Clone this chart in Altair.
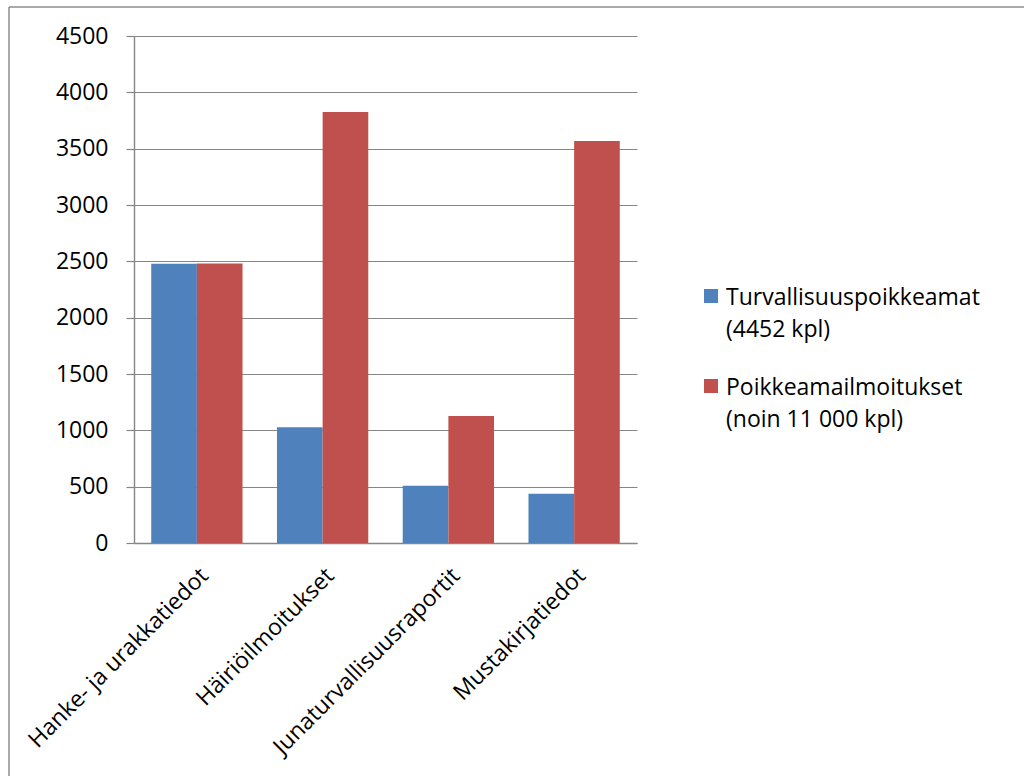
import altair as alt
import pandas as pd

categories = ["Hanke- ja urakkatiedot", "Häiriöilmoitukset", "Junaturvallisuusraportit", "Mustakirjatiedot"]
series = ["Turvallisuuspoikkeamat", "Poikkeamailmoitukset"]
turvallisuus = [2478, 1028, 508, 438]
poikkeama = [2480, 3826, 1127, 3567]
legend_labels = ["Turvallisuuspoikkeamat\n(4452 kpl)", "Poikkeamailmoitukset\n(noin 11 000 kpl)"]
colors = ["#4F81BD", "#C0504D"]
y_ticks = [0, 500, 1000, 1500, 2000, 2500, 3000, 3500, 4000, 4500]

rows = []
for i, c in enumerate(categories):
    rows.append({"cat": c, "series": series[0], "value": turvallisuus[i]})
    rows.append({"cat": c, "series": series[1], "value": poikkeama[i]})
df = pd.DataFrame(rows)
leg_df = pd.DataFrame({"series": series, "label": legend_labels})
one = pd.DataFrame({"a": [0]})

FONT = "Open Sans"
GRAY = "#868686"

color_scale = alt.Scale(domain=series, range=colors)

bars = alt.Chart(df).mark_bar().encode(
    x=alt.X("cat:N", sort=categories, title=None,
            scale=alt.Scale(paddingInner=0.274, paddingOuter=0.137),
            axis=alt.Axis(labelAngle=-45, labelAlign="right", labelBaseline="top",
                          labelPadding=21, ticks=False, tickSize=0, grid=False,
                          domainColor=GRAY, domainWidth=1.6, labelFont=FONT,
                          labelFontSize=23, labelColor="black", labelLimit=400)),
    xOffset=alt.XOffset("series:N", sort=series, scale=alt.Scale(paddingInner=0, paddingOuter=0)),
    y=alt.Y("value:Q", title=None, scale=alt.Scale(domain=[0, 4500], nice=False),
            axis=alt.Axis(values=y_ticks, format="d", grid=True, gridColor=GRAY, gridWidth=1.2,
                          tickSize=8, tickColor=GRAY, tickWidth=1.2, domainColor=GRAY,
                          domainWidth=1.4, labelPadding=18, labelFont=FONT,
                          labelFontSize=23, labelColor="black")),
    color=alt.Color("series:N", scale=color_scale, legend=None),
)

leg_y = alt.Y("series:N", axis=None,
              scale=alt.Scale(type="point", domain=series, range=[260, 350], padding=0))

leg_sym = alt.Chart(leg_df).mark_square(size=196, opacity=1).encode(
    x=alt.value(577),
    y=leg_y,
    color=alt.Color("series:N", scale=color_scale, legend=None),
)

leg_txt = alt.Chart(leg_df).mark_text(
    align="left", baseline="alphabetic", lineBreak="\n", lineHeight=32,
    font=FONT, fontSize=23, color="black", dy=9
).encode(
    x=alt.value(592),
    y=leg_y,
    text="label:N",
)

border_left = alt.Chart(one).mark_rule(color="#8c8c8c", strokeWidth=1.5).encode(
    x=alt.value(-125), y=alt.value(-29), y2=alt.value(760)
)
border_top = alt.Chart(one).mark_rule(color="#8c8c8c", strokeWidth=1.5).encode(
    x=alt.value(-125), x2=alt.value(900), y=alt.value(-29)
)

chart = alt.layer(border_left, border_top, bars, leg_sym, leg_txt).resolve_scale(
    y="independent"
).properties(
    width=503, height=507,
    autosize=alt.AutoSizeParams(type="none"),
    padding={"left": 134, "top": 36, "right": 387, "bottom": 233},
    background="white",
).configure_view(strokeWidth=0)

chart.save("out.html", embed_options={"renderer": "svg", "actions": False})
